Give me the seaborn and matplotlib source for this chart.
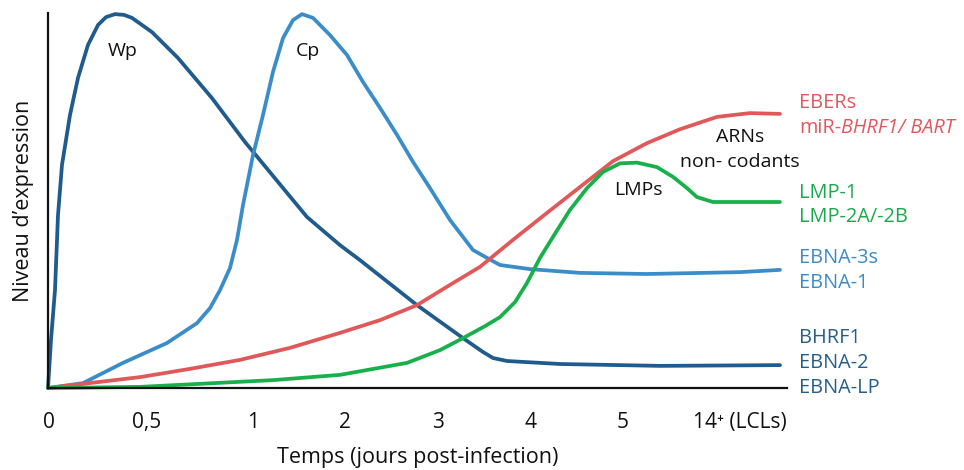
import matplotlib
matplotlib.use("Agg")
import matplotlib.pyplot as plt
import seaborn as sns
import pandas as pd

# schematic time axis (1 unit ~ one tick step), expression in % of max
tick_pos = [0.01, 0.99, 2.05, 2.97, 3.9, 4.82, 5.75, 6.92]
tick_labels = ["0", "0,5", "1", "2", "3", "4", "5", "14\u207a (LCLs)"]

wp_x = [0, 0.03, 0.07, 0.10, 0.14, 0.22, 0.30, 0.40, 0.50, 0.58, 0.67, 0.76, 0.84,
        1.04, 1.30, 1.64, 1.97, 2.45, 2.59, 2.92, 3.12, 3.69, 4.15, 4.35, 4.45,
        4.59, 5.12, 6.12, 7.32]
wp_y = [0, 12.8, 26.1, 46.1, 59.5, 72.8, 82.7, 91.5, 96.8, 98.9, 99.7, 99.5, 98.7,
        94.9, 88, 77.3, 65.6, 50.1, 45.6, 38.1, 34.1, 22.1, 13.3, 9.6, 8,
        7.2, 6.4, 5.9, 6.1]

cp_x = [0, 0.35, 0.75, 1.19, 1.49, 1.62, 1.72, 1.82, 1.89, 1.95, 2.05, 2.15, 2.25,
        2.35, 2.45, 2.54, 2.65, 2.82, 2.99, 3.15, 3.32, 3.49, 3.65, 3.82, 4.02,
        4.25, 4.39, 4.52, 4.82, 5.32, 5.99, 6.92, 7.32]
cp_y = [0, 1.3, 6.7, 12, 17.3, 21.3, 26.1, 32, 39.5, 48.8, 62.1, 72.8, 84.3,
        93.3, 98.1, 99.7, 98.7, 94.1, 88.8, 81.6, 74.7, 67.5, 60.3, 53.3, 44.8,
        36.8, 34.7, 32.8, 31.7, 30.7, 30.4, 30.9, 31.5]

eber_x = [0, 0.92, 1.42, 1.92, 2.42, 2.92, 3.32, 3.69, 4.02, 4.32, 4.65, 4.99,
          5.32, 5.65, 5.99, 6.32, 6.69, 7.02, 7.32]
eber_y = [0, 2.9, 5.1, 7.5, 10.7, 14.7, 18.1, 22.1, 27.5, 32.3, 39.5, 46.7,
          53.6, 60.5, 65.3, 69.0, 72.3, 73.3, 73.1]

lmp_x = [0, 0.92, 2.25, 2.92, 3.59, 3.92, 4.15, 4.37, 4.52, 4.67, 4.79, 4.92,
         5.05, 5.22, 5.39, 5.55, 5.72, 5.89, 6.09, 6.25, 6.39, 6.49, 6.65, 6.92, 7.32]
lmp_y = [0, 0.3, 2.1, 3.5, 6.7, 10.1, 13.3, 16.5, 18.9, 22.9, 28, 34.7,
         40.3, 47.5, 53.3, 57.6, 59.9, 60.1, 58.9, 56.3, 53.3, 50.9, 49.6, 49.6, 49.6]

c_wp = "#1f5b8c"
c_cp = "#3a8dc9"
c_red = "#e0585a"
c_green = "#17b04a"

sns.set_theme(style="white")
plt.rcParams['font.family'] = ['Open Sans', 'DejaVu Sans']

fig = plt.figure(figsize=(9.64, 4.70), dpi=100)
ax = fig.add_axes([48 / 964, 82 / 470, 739 / 964, 375 / 470])

series = [(wp_x, wp_y, c_wp), (cp_x, cp_y, c_cp),
          (eber_x, eber_y, c_red), (lmp_x, lmp_y, c_green)]
for xs, ys, col in series:
    df = pd.DataFrame({"t": xs, "v": ys})
    sns.lineplot(data=df, x="t", y="v", ax=ax, color=col, linewidth=2.7,
                 sort=False, estimator=None, clip_on=False)
for ln in ax.lines:
    ln.set_solid_joinstyle("round")
    ln.set_solid_capstyle("round")

ax.set_xlim(0, 7.39)
ax.set_ylim(0, 100)
ax.set_xticks(tick_pos)
ax.set_xticklabels(tick_labels, fontsize=15, color="#111111")
ax.set_yticks([])
ax.tick_params(axis="x", length=0, pad=17)
for s in ["top", "right"]:
    ax.spines[s].set_visible(False)
for s in ["left", "bottom"]:
    ax.spines[s].set_color("#111111")
    ax.spines[s].set_linewidth(1.6)

ax.set_xlabel("Temps (jours post-infection)", fontsize=15.5, color="#111111", labelpad=10)
ax.set_ylabel("Niveau d\u2019expression", fontsize=15.5, color="#111111", labelpad=10)

# curve annotations
ax.text(0.75, 90, "Wp", fontsize=14, ha="center", va="center", color="#111111")
ax.text(2.6, 90, "Cp", fontsize=14, ha="center", va="center", color="#111111")
ax.text(5.9, 52.8, "LMPs", fontsize=14, ha="center", va="center", color="#111111")
ax.text(6.92, 67, "ARNs", fontsize=14, ha="center", va="center", color="#111111")
ax.text(6.92, 60.3, "non- codants", fontsize=14, ha="center", va="center", color="#111111")

# right-hand gene labels
lx = 7.51
right_labels = [
    ("EBERs", 76, "#e0585f"),
    ("LMP-1", 52, "#1aa84a"),
    ("LMP-2A/-2B", 45.6, "#1aa84a"),
    ("EBNA-3s", 34.7, "#3d8ac4"),
    ("EBNA-1", 28, "#3d8ac4"),
    ("BHRF1", 13.3, "#255e8a"),
    ("EBNA-2", 6.7, "#255e8a"),
    ("EBNA-LP", 0, "#255e8a"),
]
for txt, yv, col in right_labels:
    ax.text(lx, yv, txt, fontsize=14.3, ha="left", va="center", color=col, clip_on=False)

t1 = ax.text(lx, 69.3, "miR-", fontsize=14.3, ha="left", va="center", color="#e0585f", clip_on=False)
ax.annotate("BHRF1/ BART", xy=(1, 0), xycoords=t1, va="bottom", ha="left",
            fontsize=14.3, style="italic", color="#e0585f", annotation_clip=False)

fig.savefig("out.png", dpi=100)
